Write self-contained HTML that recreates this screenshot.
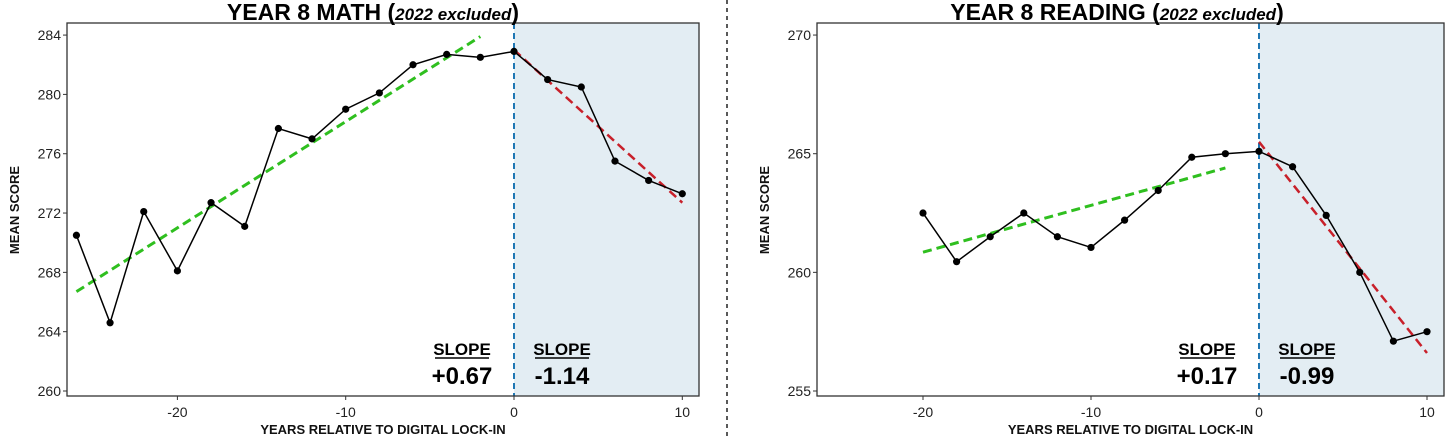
<!DOCTYPE html>
<html><head><meta charset="utf-8"><style>
html,body{margin:0;padding:0;background:#fff;width:1456px;height:436px;overflow:hidden}
svg{display:block;font-family:"Liberation Sans",sans-serif}
</style></head><body>
<svg id="s" width="1456" height="436" xmlns="http://www.w3.org/2000/svg"></svg>
<script>
const S=document.getElementById('s');let h='';
function chart(o){
 const X=v=>o.x0+(v-0)*o.px, Y=v=>o.yb+(v-o.ymin)*o.py;
 const L=o.L,R=o.R,T=23,B=396;
 h+=`<rect x="${X(0)}" y="${T}" width="${R-X(0)}" height="${B-T}" fill="#e3edf3"/>`;
 h+=`<line x1="${X(0)}" y1="${T}" x2="${X(0)}" y2="${B}" stroke="#1f77b4" stroke-width="2" stroke-dasharray="6,4"/>`;
 h+=`<rect x="${L}" y="${T}" width="${R-L}" height="${B-T}" fill="none" stroke="#333" stroke-width="1.3"/>`;
 o.yt.forEach(v=>{h+=`<line x1="${L-4}" x2="${L}" y1="${Y(v)}" y2="${Y(v)}" stroke="#333"/><text x="${L-6}" y="${Y(v)+5}" font-size="14" text-anchor="end" fill="#222">${v}</text>`});
 [-20,-10,0,10].forEach(v=>{h+=`<line x1="${X(v)}" x2="${X(v)}" y1="${B}" y2="${B+4}" stroke="#333"/><text x="${X(v)}" y="${B+21}" font-size="14" text-anchor="middle" fill="#222">${v}</text>`});
 h+=`<text x="${(L+R)/2}" y="434" font-size="13" font-weight="bold" text-anchor="middle" fill="#111">YEARS RELATIVE TO DIGITAL LOCK-IN</text>`;
 h+=`<text transform="translate(${o.yl},210) rotate(-90)" font-size="13" font-weight="bold" text-anchor="middle" fill="#111">MEAN SCORE</text>`;
 h+=`<text x="${o.tx}" y="20" font-size="23" font-weight="bold" text-anchor="middle" fill="#000">${o.title} (<tspan font-size="17" font-style="italic">2022 excluded</tspan>)</text>`;
 h+=`<line x1="${X(o.g[0])}" y1="${Y(o.g[1])}" x2="${X(o.g[2])}" y2="${Y(o.g[3])}" stroke="#2fbf1f" stroke-width="3" stroke-dasharray="9,5"/>`;
 h+=`<line x1="${X(o.r[0])}" y1="${Y(o.r[1])}" x2="${X(o.r[2])}" y2="${Y(o.r[3])}" stroke="#c8202a" stroke-width="2.5" stroke-dasharray="9,5"/>`;
 h+=`<polyline fill="none" stroke="#000" stroke-width="1.5" points="${o.d.map(p=>X(p[0])+','+Y(p[1])).join(' ')}"/>`;
 o.d.forEach(p=>h+=`<circle cx="${X(p[0])}" cy="${Y(p[1])}" r="3.6" fill="#000"/>`);
 [[X(0)-52,o.s1],[X(0)+48,o.s2]].forEach(([cx,t])=>{
  h+=`<text x="${cx}" y="355" font-size="17" font-weight="bold" text-anchor="middle" fill="#000">SLOPE</text><line x1="${cx-27}" x2="${cx+27}" y1="358" y2="358" stroke="#000" stroke-width="1.5"/><text x="${cx}" y="384" font-size="24" font-weight="bold" text-anchor="middle" fill="#000">${t}</text>`});
}
chart({L:67,R:699,x0:514,px:16.83,yb:391,ymin:260,py:-14.83,yt:[260,264,268,272,276,280,284],yl:19,tx:373,title:"YEAR 8 MATH",
 d:[[-26,270.5],[-24,264.6],[-22,272.1],[-20,268.1],[-18,272.7],[-16,271.1],[-14,277.7],[-12,277.0],[-10,279.0],[-8,280.1],[-6,282.0],[-4,282.7],[-2,282.5],[0,282.9],[2,281.0],[4,280.5],[6,275.5],[8,274.2],[10,273.3]],
 g:[-26,266.7,-2,283.9],r:[0,283,10,272.7],s1:"+0.67",s2:"-1.14"});
chart({L:817,R:1444,x0:1259,px:16.8,yb:391,ymin:255,py:-23.73,yt:[255,260,265,270],yl:769,tx:1117,title:"YEAR 8 READING",
 d:[[-20,262.5],[-18,260.45],[-16,261.5],[-14,262.5],[-12,261.5],[-10,261.05],[-8,262.2],[-6,263.45],[-4,264.85],[-2,265.0],[0,265.1],[2,264.45],[4,262.4],[6,260.0],[8,257.1],[10,257.5]],
 g:[-20,260.85,-2,264.4],r:[0,265.5,10,256.6],s1:"+0.17",s2:"-0.99"});
h+=`<line x1="727" y1="0" x2="727" y2="436" stroke="#222" stroke-width="1.5" stroke-dasharray="4,4"/>`;
S.innerHTML=h;
</script>
</body></html>
